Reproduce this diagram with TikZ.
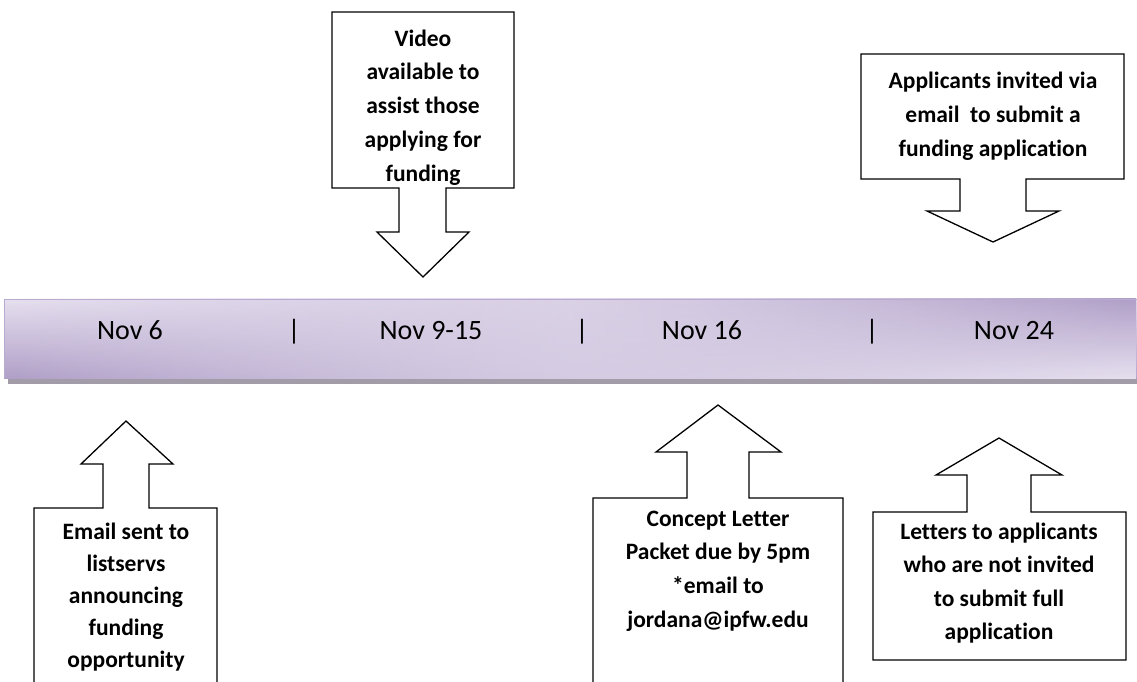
\documentclass[tikz,border=0pt]{standalone}
\usepackage{fontspec}
\setmainfont{Carlito}[Ligatures=NoCommon]
\usetikzlibrary{fadings}
\definecolor{barlight}{HTML}{E6E0EF}
\definecolor{bardark}{HTML}{B09FC8}
\definecolor{barshadow}{HTML}{A29BA8}
\definecolor{baredge}{HTML}{B8AAD0}
\tikzfading[name=midband, left color=transparent!100, right color=transparent!100, middle color=transparent!45]
\tikzset{
  callout/.style={draw=black, line width=1.3pt, line join=miter, fill=white},
  calltext/.style={font=\fontsize{23.5}{33.8}\selectfont\bfseries, align=center, inner sep=0pt},
  datetext/.style={font=\fontsize{28}{30}\selectfont, inner sep=0pt, anchor=base}
}
\begin{document}
\begin{tikzpicture}[x=1pt,y=-1pt]
\useasboundingbox[fill=white] (0,0) rectangle (1137,681);
% timeline bar
\fill[barshadow] (8,372) rectangle (1137,384);
\shade[top color=barlight, bottom color=bardark] (4,299) rectangle (1137,378);
\shade[top color=bardark, bottom color=barlight, path fading=west] (4,299) rectangle (1137,378);
\shade[top color=barlight, bottom color=barlight!85!bardark, path fading=midband] (4,299) rectangle (1137,378);
\draw[baredge, line width=1pt] (4,378) -- (4,299) -- (1137,299);
\node[datetext] (d1) at (130,339) {Nov 6};
\node[datetext] (s1) at (294,339) {|};
\node[datetext] (d2) at (431,339) {Nov 9-15};
\node[datetext] (s2) at (582,339) {|};
\node[datetext] (d3) at (702,339) {Nov 16};
\node[datetext] (s3) at (872,339) {|};
\node[datetext] (d4) at (1014,339) {Nov 24};
% Video callout (down)
\draw[callout] (332,12) -- (514,12) -- (514,188) -- (446,188) -- (446,232) -- (469,232) -- (423,277) -- (377,232) -- (399,232) -- (399,188) -- (332,188) -- cycle;
\node[calltext] (video) at (423,107.5) {Video\\available to\\assist those\\applying for\\funding};
% Applicants callout (down)
\draw[callout] (861,54) -- (1124,54) -- (1124,179) -- (1026,179) -- (1026,211) -- (1059,211) -- (993,242) -- (927,211) -- (960,211) -- (960,179) -- (861,179) -- cycle;
\node[calltext] (applicants) at (993,116) {Applicants invited via\\email~ to submit a\\funding application};
% Email callout (up, open bottom)
\draw[callout] (34,690) -- (34,508) -- (103,508) -- (103,464) -- (81,464) -- (126,421) -- (173,464) -- (149,464) -- (149,508) -- (217,508) -- (217,690);
\node[calltext, font=\fontsize{23.5}{31.8}\selectfont\bfseries] (email) at (126,597) {Email sent to\\listservs\\announcing\\funding\\opportunity};
% Concept callout (up, open bottom)
\draw[callout] (593,690) -- (593,498) -- (687,498) -- (687,452) -- (656,452) -- (718,405) -- (781,452) -- (749,452) -- (749,498) -- (843,498) -- (843,690);
\node[calltext] (concept) at (718,571) {Concept Letter\\Packet due by 5pm\\*email to\\jordana@ipfw.edu};
% Letters callout (up)
\draw[callout] (873,660) -- (873,512) -- (967,512) -- (967,475) -- (936,475) -- (999,438) -- (1062,475) -- (1031,475) -- (1031,512) -- (1126,512) -- (1126,660) -- cycle;
\node[calltext, font=\fontsize{23.5}{33.2}\selectfont\bfseries] (letters) at (999,583) {Letters to applicants\\who are not invited\\to submit full\\application};
\end{tikzpicture}
\end{document}
